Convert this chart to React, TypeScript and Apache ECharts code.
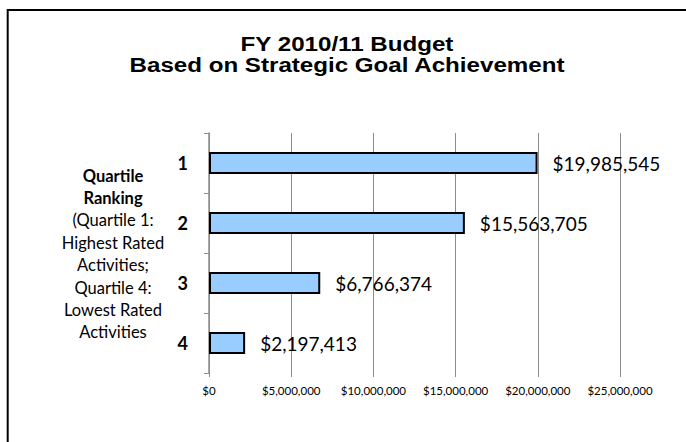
import React, { useEffect, useRef } from "react";
import * as echarts from "echarts";

const titleLines = ["FY 2010/11 Budget", "Based on Strategic Goal Achievement"];
const categories = ["1", "2", "3", "4"];
const budgetValues = [19985545, 15563705, 6766374, 2197413];
const xTicks = [0, 5000000, 10000000, 15000000, 20000000, 25000000];
const sideBold = ["Quartile", "Ranking"];
const sideNormal = ["(Quartile 1:", "Highest Rated", "Activities;", "Quartile 4:", "Lowest Rated", "Activities"];

const money = (v: number) => "$" + Math.round(v).toLocaleString("en-US");
const FONT = "Lato, 'Noto Sans', sans-serif";
const TITLE_FONT = "'Liberation Sans', Arial, sans-serif";

export default function App() {
  const ref = useRef<HTMLDivElement>(null);
  useEffect(() => {
    if (!ref.current) return;
    const chart = echarts.init(ref.current, undefined, { renderer: "svg" });
    const sideText =
      sideBold.map((s) => "{b|" + s + "}").join("\n") +
      "\n" +
      sideNormal.map((s) => "{n|" + s + "}").join("\n");
    const titleStyle = (text: string) => ({
      text,
      textAlign: "center",
      textVerticalAlign: "middle",
      fontFamily: TITLE_FONT,
      fontWeight: "bold",
      fontSize: 21,
      fill: "#000",
    });
    chart.setOption({
      animation: false,
      backgroundColor: "#ffffff",
      grid: { left: 209, right: 66, top: 133, bottom: 69, containLabel: false },
      xAxis: {
        type: "value",
        min: xTicks[0],
        max: xTicks[xTicks.length - 1],
        interval: xTicks[1] - xTicks[0],
        axisLine: { show: false },
        axisTick: { show: true, length: 4, lineStyle: { color: "#8c8c8c", width: 1 } },
        splitLine: { show: true, lineStyle: { color: "#8c8c8c", width: 1 } },
        axisLabel: {
          formatter: (v: number) => money(v),
          color: "#000",
          fontFamily: FONT,
          fontSize: 11.5,
          margin: 11,
        },
      },
      yAxis: {
        type: "category",
        data: categories,
        inverse: true,
        axisLine: { show: true, lineStyle: { color: "#8c8c8c", width: 1.5 } },
        axisTick: { show: true, length: 5, lineStyle: { color: "#8c8c8c", width: 1 } },
        axisLabel: {
          color: "#000",
          fontFamily: FONT,
          fontWeight: "bold",
          fontSize: 18,
          margin: 21,
        },
      },
      series: [
        {
          type: "bar",
          data: budgetValues,
          barWidth: 22,
          itemStyle: { color: "#99ccff", borderColor: "#000", borderWidth: 2 },
          label: {
            show: true,
            position: "right",
            distance: 15,
            color: "#000",
            fontFamily: FONT,
            fontSize: 19,
            formatter: (p: any) => money(p.value),
          },
        },
      ],
      graphic: [
        {
          type: "rect",
          shape: { x: 7.7, y: 10, width: 720, height: 470 },
          style: { fill: "none", stroke: "#000", lineWidth: 2 },
          silent: true,
        },
        {
          type: "text",
          x: 347,
          y: 44,
          scaleX: 1.15,
          style: titleStyle(titleLines[0]),
        },
        {
          type: "text",
          x: 347,
          y: 65,
          scaleX: 1.15,
          style: titleStyle(titleLines[1]),
        },
        {
          type: "text",
          x: 113,
          y: 254,
          style: {
            text: sideText,
            textAlign: "center",
            textVerticalAlign: "middle",
            fill: "#000",
            rich: {
              b: { fontFamily: FONT, fontWeight: "bold", fontSize: 16.5, lineHeight: 22.4, fill: "#000" },
              n: { fontFamily: FONT, fontSize: 16.5, lineHeight: 22.4, fill: "#000" },
            },
          },
        },
      ],
    });
    return () => chart.dispose();
  }, []);
  return (
    <div
      ref={ref}
      style={{ position: "fixed", left: 0, top: 0, width: 686, height: 442 }}
    />
  );
}
